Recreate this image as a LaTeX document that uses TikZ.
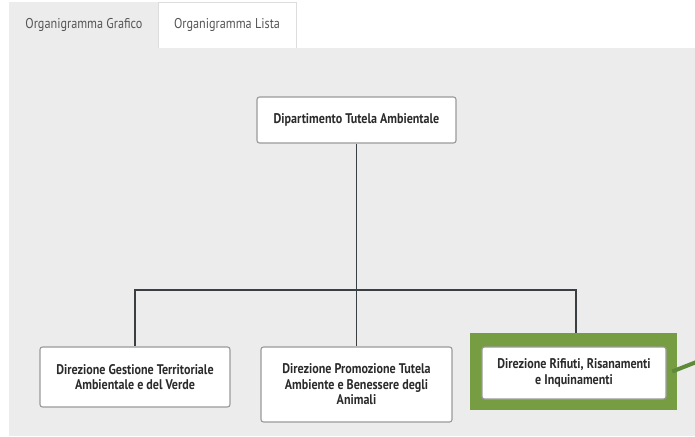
\documentclass[tikz,border=0pt]{standalone}
\usepackage{fontspec}
\setmainfont[FakeStretch=0.86]{PT Sans}
\pgfdeclarelayer{bg}
\pgfdeclarelayer{lines}
\pgfsetlayers{bg,lines,main}
\definecolor{panelgray}{HTML}{ECECEC}
\definecolor{boxgray}{HTML}{9A9A9A}
\definecolor{textdark}{HTML}{2B2B2B}
\definecolor{tabtext}{HTML}{555555}
\definecolor{tabborder}{HTML}{DDDDDD}
\definecolor{linegray}{HTML}{3A3F44}
\definecolor{hlgreen}{HTML}{779D42}
\definecolor{arrowgreen}{HTML}{5E8A3A}
\begin{document}
\begin{tikzpicture}[x=1pt,y=-1pt,
  box/.style={draw=boxgray, line width=1.1pt, rounded corners=2.5pt, fill=white,
    align=center, text=textdark, inner sep=0pt,
    font=\bfseries\fontsize{14}{15.5}\selectfont},
  tab/.style={inner sep=0pt, text=tabtext, font=\fontsize{14.2}{16}\selectfont},
  conn/.style={draw=linegray, line width=1.6pt},
  hlframe/.style={fill=hlgreen, inner sep=0pt}]
\useasboundingbox (0,0) rectangle (695,436);
% tabs and panel
\begin{pgfonlayer}{bg}
  \fill[white] (0,0) rectangle (695,436);
  \fill[panelgray] (9,48) rectangle (695,436);
  \fill[panelgray] (9,2) rectangle (158,48);
  \draw[tabborder, line width=0.8pt, fill=white] (158,48) -- (158,2) -- (296,2) -- (296,48);
\end{pgfonlayer}
\node[tab] (tabA) at (84,25) {Organigramma Grafico};
\node[tab] (tabB) at (227,25) {Organigramma Lista};
% nodes
\node[box, minimum width=199pt, minimum height=46pt] (top) at (356.5,120) {Dipartimento Tutela Ambientale};
\node[box, minimum width=190pt, minimum height=60pt] (n1) at (135,377) {Direzione Gestione Territoriale\\Ambientale e del Verde};
\node[box, minimum width=191pt, minimum height=75pt] (n2) at (356.5,384.5) {Direzione Promozione Tutela\\Ambiente e Benessere degli\\Animali};
\node[hlframe, minimum width=207pt, minimum height=77pt] (hl) at (573.5,371.5) {};
\node[box, minimum width=184pt, minimum height=52pt] (n3) at (574,373) {Direzione Rifiuti, Risanamenti\\e Inquinamenti};
% connectors
\coordinate (bus) at (356.5,290);
\begin{pgfonlayer}{lines}
  \draw[conn] (top.south) -- (bus);
  \draw[conn] (n1.north) |- (bus) -| ([xshift=2pt]n3.north);
  \draw[conn] (bus) -- (n2.north);
\end{pgfonlayer}
\coordinate (out) at (699,361);
\draw[arrowgreen, line width=4pt] ([xshift=-5pt]hl.east) -- (out);
\end{tikzpicture}
\end{document}
